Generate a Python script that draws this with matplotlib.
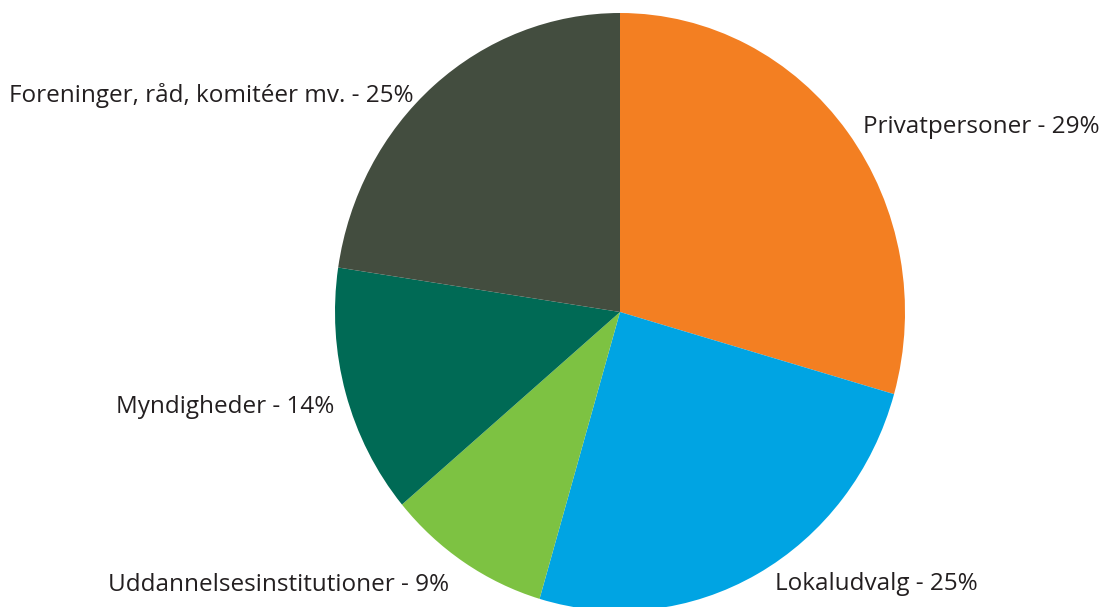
import matplotlib
matplotlib.use("Agg")
import matplotlib.pyplot as plt

# shares (clockwise from 12 o'clock)
categories = ["Privatpersoner", "Lokaludvalg", "Uddannelsesinstitutioner",
              "Myndigheder", "Foreninger, råd, komitéer mv."]
shares = [29.4, 25.1, 9.3, 13.5, 22.6]
pct_labels = ["29%", "25%", "9%", "14%", "25%"]
colors = ["#F37F22", "#00A4E3", "#7DC242", "#006A55", "#434D3F"]

W, H = 1101, 607
fig = plt.figure(figsize=(W / 100, H / 100), dpi=100)
fig.patch.set_facecolor("white")

# pie is slightly taller than wide in the reference
cx, cy, rx, ry = 620, 312, 285, 299
ax = fig.add_axes([(cx - rx) / W, (H - cy - ry) / H, 2 * rx / W, 2 * ry / H])
ax.pie(shares, colors=colors, startangle=90, counterclock=False,
       wedgeprops=dict(linewidth=0))
ax.set_aspect("auto")
ax.set_xlim(-1, 1)
ax.set_ylim(-1, 1)
ax.axis("off")

# label anchors (left x, baseline y) in pixels
label_pos = [(863, 133), (775, 590), (108, 591), (116, 413), (9, 102)]
for name, pct, (lx, ly) in zip(categories, pct_labels, label_pos):
    fig.text(lx / W, 1 - ly / H, f"{name} - {pct}", ha="left", va="baseline",
             fontsize=17.5, family="Open Sans", color="#231F20")

fig.savefig("out.png", dpi=100)
